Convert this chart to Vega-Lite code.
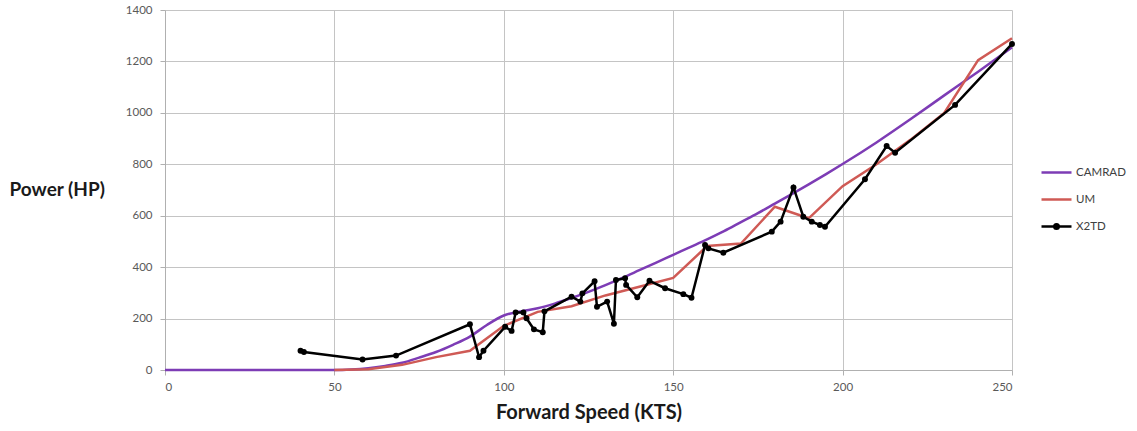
{
  "$schema": "https://vega.github.io/schema/vega-lite/v6.json",
  "width": 847,
  "height": 360,
  "autosize": {"type": "none"},
  "padding": {"left": 165, "top": 10, "right": 125, "bottom": 61},
  "background": "white",
  "config": {
    "view": {"stroke": null},
    "font": "Lato",
    "axis": {
      "gridColor": "#C4C4C4",
      "gridWidth": 1,
      "domainColor": "#B0B0B0",
      "domainWidth": 1,
      "tickColor": "#B0B0B0",
      "tickSize": 5,
      "labelColor": "#595959",
      "labelFontSize": 11.5,
      "labelFont": "Lato",
      "titleFont": "Lato",
      "titleColor": "#1a1a1a",
      "titleFontWeight": "bold"
    }
  },
  "data": {
    "values": [
      {"s": "CAMRAD", "i": 0, "x": 0, "y": 0},
      {"s": "CAMRAD", "i": 1, "x": 50, "y": 0},
      {"s": "CAMRAD", "i": 2, "x": 55, "y": 2},
      {"s": "CAMRAD", "i": 3, "x": 60, "y": 7},
      {"s": "CAMRAD", "i": 4, "x": 65, "y": 16},
      {"s": "CAMRAD", "i": 5, "x": 70, "y": 28},
      {"s": "CAMRAD", "i": 6, "x": 75, "y": 48},
      {"s": "CAMRAD", "i": 7, "x": 80, "y": 70},
      {"s": "CAMRAD", "i": 8, "x": 85, "y": 98},
      {"s": "CAMRAD", "i": 9, "x": 90, "y": 130},
      {"s": "CAMRAD", "i": 10, "x": 95, "y": 175},
      {"s": "CAMRAD", "i": 11, "x": 100, "y": 212},
      {"s": "CAMRAD", "i": 12, "x": 105, "y": 228},
      {"s": "CAMRAD", "i": 13, "x": 110, "y": 240},
      {"s": "CAMRAD", "i": 14, "x": 115, "y": 258},
      {"s": "CAMRAD", "i": 15, "x": 120, "y": 280},
      {"s": "CAMRAD", "i": 16, "x": 125, "y": 304},
      {"s": "CAMRAD", "i": 17, "x": 130, "y": 330},
      {"s": "CAMRAD", "i": 18, "x": 135, "y": 358},
      {"s": "CAMRAD", "i": 19, "x": 140, "y": 388},
      {"s": "CAMRAD", "i": 20, "x": 145, "y": 418},
      {"s": "CAMRAD", "i": 21, "x": 150, "y": 448},
      {"s": "CAMRAD", "i": 22, "x": 155, "y": 478},
      {"s": "CAMRAD", "i": 23, "x": 160, "y": 508},
      {"s": "CAMRAD", "i": 24, "x": 165, "y": 540},
      {"s": "CAMRAD", "i": 25, "x": 170, "y": 575},
      {"s": "CAMRAD", "i": 26, "x": 175, "y": 610},
      {"s": "CAMRAD", "i": 27, "x": 180, "y": 647},
      {"s": "CAMRAD", "i": 28, "x": 185, "y": 684},
      {"s": "CAMRAD", "i": 29, "x": 190, "y": 722},
      {"s": "CAMRAD", "i": 30, "x": 195, "y": 761},
      {"s": "CAMRAD", "i": 31, "x": 200, "y": 801},
      {"s": "CAMRAD", "i": 32, "x": 210, "y": 885},
      {"s": "CAMRAD", "i": 33, "x": 220, "y": 975},
      {"s": "CAMRAD", "i": 34, "x": 230, "y": 1068},
      {"s": "CAMRAD", "i": 35, "x": 240, "y": 1160},
      {"s": "CAMRAD", "i": 36, "x": 250, "y": 1255},
      {"s": "UM", "i": 0, "x": 50, "y": 0},
      {"s": "UM", "i": 1, "x": 60, "y": 3},
      {"s": "UM", "i": 2, "x": 70, "y": 20},
      {"s": "UM", "i": 3, "x": 80, "y": 50},
      {"s": "UM", "i": 4, "x": 90, "y": 75},
      {"s": "UM", "i": 5, "x": 100, "y": 172},
      {"s": "UM", "i": 6, "x": 110, "y": 226},
      {"s": "UM", "i": 7, "x": 120, "y": 248},
      {"s": "UM", "i": 8, "x": 130, "y": 290},
      {"s": "UM", "i": 9, "x": 140, "y": 324},
      {"s": "UM", "i": 10, "x": 150, "y": 358},
      {"s": "UM", "i": 11, "x": 160, "y": 482},
      {"s": "UM", "i": 12, "x": 170, "y": 492},
      {"s": "UM", "i": 13, "x": 180, "y": 635},
      {"s": "UM", "i": 14, "x": 190, "y": 590},
      {"s": "UM", "i": 15, "x": 200, "y": 715},
      {"s": "UM", "i": 16, "x": 210, "y": 800},
      {"s": "UM", "i": 17, "x": 220, "y": 895},
      {"s": "UM", "i": 18, "x": 230, "y": 1000},
      {"s": "UM", "i": 19, "x": 240, "y": 1205},
      {"s": "UM", "i": 20, "x": 250, "y": 1290},
      {"s": "X2TD", "i": 0, "x": 40, "y": 75},
      {"s": "X2TD", "i": 1, "x": 41, "y": 70},
      {"s": "X2TD", "i": 2, "x": 58.3, "y": 41},
      {"s": "X2TD", "i": 3, "x": 68.2, "y": 56},
      {"s": "X2TD", "i": 4, "x": 90.0, "y": 178},
      {"s": "X2TD", "i": 5, "x": 92.7, "y": 50},
      {"s": "X2TD", "i": 6, "x": 94, "y": 75},
      {"s": "X2TD", "i": 7, "x": 100.4, "y": 168},
      {"s": "X2TD", "i": 8, "x": 102.3, "y": 152},
      {"s": "X2TD", "i": 9, "x": 103.5, "y": 224},
      {"s": "X2TD", "i": 10, "x": 105.8, "y": 224},
      {"s": "X2TD", "i": 11, "x": 106.7, "y": 201},
      {"s": "X2TD", "i": 12, "x": 108.9, "y": 158},
      {"s": "X2TD", "i": 13, "x": 111.5, "y": 147},
      {"s": "X2TD", "i": 14, "x": 112, "y": 228},
      {"s": "X2TD", "i": 15, "x": 120, "y": 285},
      {"s": "X2TD", "i": 16, "x": 122.6, "y": 266},
      {"s": "X2TD", "i": 17, "x": 123.2, "y": 298},
      {"s": "X2TD", "i": 18, "x": 126.8, "y": 345},
      {"s": "X2TD", "i": 19, "x": 127.5, "y": 246},
      {"s": "X2TD", "i": 20, "x": 130.5, "y": 266},
      {"s": "X2TD", "i": 21, "x": 132.5, "y": 180},
      {"s": "X2TD", "i": 22, "x": 133.1, "y": 350},
      {"s": "X2TD", "i": 23, "x": 135.8, "y": 357},
      {"s": "X2TD", "i": 24, "x": 136.1, "y": 331},
      {"s": "X2TD", "i": 25, "x": 139.4, "y": 283},
      {"s": "X2TD", "i": 26, "x": 143, "y": 347},
      {"s": "X2TD", "i": 27, "x": 147.6, "y": 318},
      {"s": "X2TD", "i": 28, "x": 153, "y": 295},
      {"s": "X2TD", "i": 29, "x": 155.4, "y": 281},
      {"s": "X2TD", "i": 30, "x": 159.4, "y": 486},
      {"s": "X2TD", "i": 31, "x": 160.4, "y": 473},
      {"s": "X2TD", "i": 32, "x": 164.8, "y": 456},
      {"s": "X2TD", "i": 33, "x": 179.1, "y": 538},
      {"s": "X2TD", "i": 34, "x": 181.7, "y": 577},
      {"s": "X2TD", "i": 35, "x": 185.5, "y": 710},
      {"s": "X2TD", "i": 36, "x": 188.4, "y": 596},
      {"s": "X2TD", "i": 37, "x": 190.9, "y": 577},
      {"s": "X2TD", "i": 38, "x": 193.3, "y": 564},
      {"s": "X2TD", "i": 39, "x": 194.8, "y": 557},
      {"s": "X2TD", "i": 40, "x": 206.6, "y": 742},
      {"s": "X2TD", "i": 41, "x": 213, "y": 871},
      {"s": "X2TD", "i": 42, "x": 215.5, "y": 845},
      {"s": "X2TD", "i": 43, "x": 233.2, "y": 1031},
      {"s": "X2TD", "i": 44, "x": 250, "y": 1268}
    ]
  },
  "encoding": {
    "x": {
      "field": "x", "type": "quantitative",
      "scale": {"domain": [0, 250], "nice": false},
      "axis": {"values": [0, 50, 100, 150, 200, 250], "format": "d", "title": "Forward Speed (KTS)", "titleFontSize": 20, "titlePadding": 10, "labelPadding": 6}
    },
    "y": {
      "field": "y", "type": "quantitative",
      "scale": {"domain": [0, 1400], "nice": false},
      "axis": {"values": [0, 200, 400, 600, 800, 1000, 1200, 1400], "format": "d", "title": "Power (HP)", "titleFontSize": 19, "titleAngle": 0, "titleAlign": "left", "titleBaseline": "middle", "titleX": -156, "titleY": 179, "labelPadding": 8}
    },
    "color": {
      "field": "s", "type": "nominal",
      "scale": {"domain": ["CAMRAD", "UM", "X2TD"], "range": ["#7D3CB5", "#CF5A55", "#000000"]},
      "legend": {
        "title": null,
        "orient": "none",
        "legendX": 875,
        "legendY": 146,
        "symbolType": "stroke",
        "symbolSize": 900,
        "symbolStrokeWidth": 2.5,
        "rowPadding": 5,
        "labelFontSize": 11.5,
        "labelColor": "#404040",
        "labelOffset": 3,
        "encode": {
          "symbols": {
            "update": {
              "shape": {"signal": "datum.value === 'X2TD' ? 'M-1,0H1M-0.15,0A0.15,0.15,0,1,1,0.15,0A0.15,0.15,0,1,1,-0.15,0Z' : 'stroke'"},
              "fill": {"signal": "datum.value === 'X2TD' ? 'black' : 'transparent'"}
            }
          }
        }
      }
    }
  },
  "layer": [
    {
      "mark": {"type": "line", "strokeWidth": 2.5, "interpolate": "monotone"},
      "transform": [{"filter": "datum.s === 'CAMRAD'"}],
      "encoding": {"order": {"field": "i", "type": "quantitative"}}
    },
    {
      "mark": {"type": "line", "strokeWidth": 2.5},
      "transform": [{"filter": "datum.s === 'UM'"}],
      "encoding": {"order": {"field": "i", "type": "quantitative"}}
    },
    {
      "mark": {"type": "line", "strokeWidth": 2.5},
      "transform": [{"filter": "datum.s === 'X2TD'"}],
      "encoding": {"order": {"field": "i", "type": "quantitative"}}
    },
    {
      "mark": {"type": "point", "filled": true, "size": 35, "opacity": 1},
      "transform": [{"filter": "datum.s === 'X2TD'"}]
    }
  ]
}
